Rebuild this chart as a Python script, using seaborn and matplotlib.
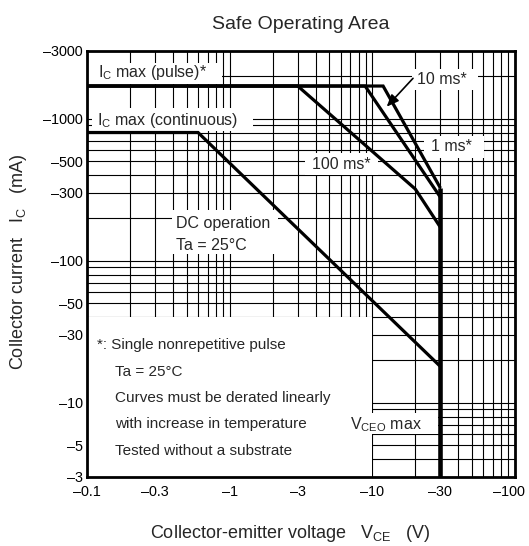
import numpy as np
import pandas as pd
import matplotlib
matplotlib.use("Agg")
import matplotlib.pyplot as plt
import matplotlib.transforms as mtransforms
import seaborn as sns
from matplotlib.patches import Rectangle
from matplotlib.ticker import FixedLocator, FuncFormatter, NullFormatter

# ---------------- data (values as printed on the chart) ----------------
dc_vce = [-0.1, -0.6, -30]
dc_ic = [-800, -800, -18]

ms100_vce = [-0.1, -3, -20, -30]
ms100_ic = [-1700, -1700, -320, -172]

ms10_vce = [-0.1, -8.9, -30]
ms10_ic = [-1700, -1700, -280]

ms1_vce = [-0.1, -11.9, -30]
ms1_ic = [-1700, -1700, -325]

vceo_vce = [-30, -30]
vceo_ic = [-325, -3]

x_ticks = [-0.1, -0.3, -1, -3, -10, -30, -100]
y_ticks = [-3, -5, -10, -30, -50, -100, -300, -500, -1000, -3000]

note_lines = ["*: Single nonrepetitive pulse",
              "Ta = 25°C",
              "Curves must be derated linearly",
              "with increase in temperature",
              "Tested without a substrate"]

# ---------------- style ----------------
sns.set_theme(style="white")
plt.rcParams['font.family'] = ['Liberation Sans', 'DejaVu Sans']
plt.rcParams['mathtext.default'] = 'regular'

fig = plt.figure(figsize=(5.29, 5.46), dpi=100)
ax = fig.add_axes([87/529, 1-477/546, 428/529, 426/546])
ax.set_xscale('log')
ax.set_yscale('log')

def frame(vce, ic, name):
    return pd.DataFrame({'V': np.abs(vce), 'I': np.abs(ic), 'curve': name})

curves = [(dc_vce, dc_ic, 'DC', 2.3),
          (ms100_vce, ms100_ic, '100ms', 2.3),
          (ms10_vce, ms10_ic, '10ms', 2.3),
          (ms1_vce, ms1_ic, '1ms', 2.3),
          (vceo_vce, vceo_ic, 'VCEO', 3.3)]
for vce, ic, name, lw in curves:
    d = frame(vce, ic, name)
    sns.lineplot(data=d, x='V', y='I', sort=False, estimator=None,
                 color='black', lw=lw, ax=ax, zorder=3,
                 solid_joinstyle='miter', solid_capstyle='butt')

ax.set_xlim(0.1, 100)
ax.set_ylim(3, 3000)

def minor_vals(lo, hi):
    vals = []
    for e in range(-2, 5):
        for k in range(1, 10):
            v = k * 10.0 ** e
            if lo < v < hi:
                vals.append(v)
    return vals

ax.xaxis.set_major_locator(FixedLocator(np.abs(x_ticks)))
ax.yaxis.set_major_locator(FixedLocator(np.abs(y_ticks)))
ax.xaxis.set_minor_locator(FixedLocator(minor_vals(0.1, 100)))
ax.yaxis.set_minor_locator(FixedLocator(minor_vals(3, 3000)))
ax.xaxis.set_minor_formatter(NullFormatter())
ax.yaxis.set_minor_formatter(NullFormatter())

def fmt(v, pos):
    s = ('%g' % v)
    return '\u2013' + s
ax.xaxis.set_major_formatter(FuncFormatter(fmt))
ax.yaxis.set_major_formatter(FuncFormatter(fmt))

ax.tick_params(which='both', length=0, labelsize=10.4, colors='black')
ax.tick_params(axis='x', pad=6)
ax.tick_params(axis='y', pad=3)
ax.set_axisbelow(True)
ax.grid(which='both', color='black', lw=0.8)
for s in ax.spines.values():
    s.set_color('black')
    s.set_linewidth(2.0)
    s.set_zorder(5)
ax.set_xlabel('')
ax.set_ylabel('')

# shift the last x tick label slightly left so it stays inside the figure
fig.canvas.draw()
last = ax.get_xticklabels()[-1]
last.set_transform(last.get_transform() +
                   mtransforms.ScaledTranslation(-6/100, 0, fig.dpi_scale_trans))

# white label boxes covering the grid (axes fractions)
boxes = [(0.0, 0.9225, 0.3154, 0.9718),
         (0.0117, 0.8122, 0.3879, 0.8662),
         (0.7593, 0.9085, 0.9136, 0.9577),
         (0.7874, 0.7488, 0.9276, 0.8005),
         (0.5093, 0.7089, 0.6799, 0.7606),
         (0.1986, 0.5235, 0.4463, 0.6268),
         (0.0, 0.0, 0.6659, 0.3756),
         (0.6028, 0.1009, 0.8201, 0.1502)]
for x0, y0, x1, y1 in boxes:
    ax.add_patch(Rectangle((x0, y0), x1 - x0, y1 - y0, transform=ax.transAxes,
                           facecolor='white', edgecolor='none', zorder=1.5))

fs = 11.5
T = ax.transAxes
ax.text(0.0257, 0.9491, 'I$_C$ max (pulse)*', transform=T, fontsize=fs, va='center', ha='left', zorder=4)
ax.text(0.0234, 0.8364, 'I$_C$ max (continuous)', transform=T, fontsize=fs, va='center', ha='left', zorder=4)
ax.text(0.8287, 0.9336, '10 ms*', transform=T, fontsize=fs, va='center', ha='center', zorder=4)
ax.text(0.8521, 0.7754, '1 ms*', transform=T, fontsize=fs, va='center', ha='center', zorder=4)
ax.text(0.5951, 0.7340, '100 ms*', transform=T, fontsize=fs, va='center', ha='center', zorder=4)
ax.text(0.2079, 0.5939, 'DC operation', transform=T, fontsize=fs, va='center', ha='left', zorder=4)
ax.text(0.2079, 0.5446, 'Ta = 25°C', transform=T, fontsize=fs, va='center', ha='left', zorder=4)
note_pos = [(0.0234, 0.3099), (0.0654, 0.2472), (0.0654, 0.1854), (0.0654, 0.1244), (0.0654, 0.0617)]
for (xx, yy), line in zip(note_pos, note_lines):
    ax.text(xx, yy, line, transform=T, fontsize=11, va='center', ha='left', zorder=4)
ax.text(0.6145, 0.1221, 'V$_{CEO}$ max', transform=T, fontsize=fs, va='center', ha='left', zorder=4)

ax.annotate('', xy=(0.7002, 0.8692), xytext=(0.7617, 0.9359), xycoords=T, textcoords=T,
            arrowprops=dict(arrowstyle='-|>,head_length=0.6,head_width=0.25', color='black', lw=1.2,
                            shrinkA=0, shrinkB=0), zorder=4)

fig.text(301/529, 1 - 29/546, 'Safe Operating Area', fontsize=14, ha='center', va='baseline')
fig.text(150/529, 1 - 538/546, 'Collector-emitter voltage   V$_{CE}$   (V)', fontsize=13, ha='left', va='baseline')
fig.text(18.5/529, 1 - 262/546, 'Collector current   I$_C$   (mA)', fontsize=13, rotation=90, ha='center', va='center')

fig.savefig('out.png', dpi=100)
